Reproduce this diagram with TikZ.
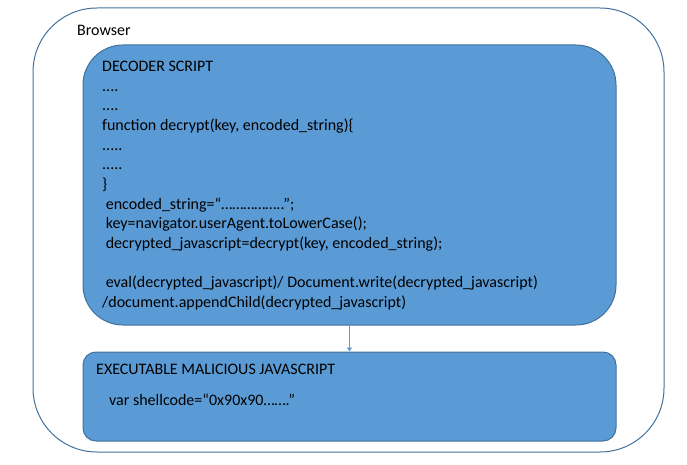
\documentclass[tikz,border=0pt]{standalone}
\usepackage{fontspec}
\setmainfont{Carlito}
\usetikzlibrary{arrows.meta}
\definecolor{boxfill}{HTML}{5B9BD5}
\definecolor{boxline}{HTML}{41719C}
\begin{document}
\begin{tikzpicture}[x=1pt,y=-1pt,
  txt/.style={anchor=north west,inner sep=0pt,align=left,text=black,
    font={\fontsize{16}{19.67}\selectfont}},
  outerbox/.style={draw=boxline,line width=1pt,rounded corners=64pt,fill=none},
  bluebox/.style={draw=boxline,line width=1pt,fill=boxfill},
  link/.style={draw=boxfill,line width=0.9pt,-{Triangle[width=5pt,length=4pt]}}]
\useasboundingbox (0,0) rectangle (687,465);
\node[outerbox,minimum width=631pt,minimum height=444pt,inner sep=0pt] (browser) at (348.5,230) {};
\node[txt] (browserlbl) at (77,25) {Browser};
\node[bluebox,rounded corners=40pt,minimum width=533pt,minimum height=280pt,inner sep=0pt] (dec) at (349.5,185) {};
\node[bluebox,rounded corners=13pt,minimum width=533pt,minimum height=89pt,inner sep=0pt] (exe) at (349.5,396.5) {};
\node[txt] (dectext) at (102,61) {DECODER SCRIPT\\
....\\
....\\
function decrypt(key, encoded\_string)\{\\
.....\\
.....\\
\}\\
\ encoded\_string=“……………..”;\\
\ key=navigator.userAgent.toLowerCase();\\
\ decrypted\_javascript=decrypt(key, encoded\_string);\\[19.67pt]
\ eval(decrypted\_javascript)/ Document.write(decrypted\_javascript)\\
/document.appendChild(decrypted\_javascript)};
\node[txt] (exetitle) at (96,364) {EXECUTABLE MALICIOUS JAVASCRIPT};
\node[txt] (exetext) at (109,394) {var shellcode=“0x90x90…….”};
\draw[link] (dec.south) -- (exe.north);
\end{tikzpicture}
\end{document}
